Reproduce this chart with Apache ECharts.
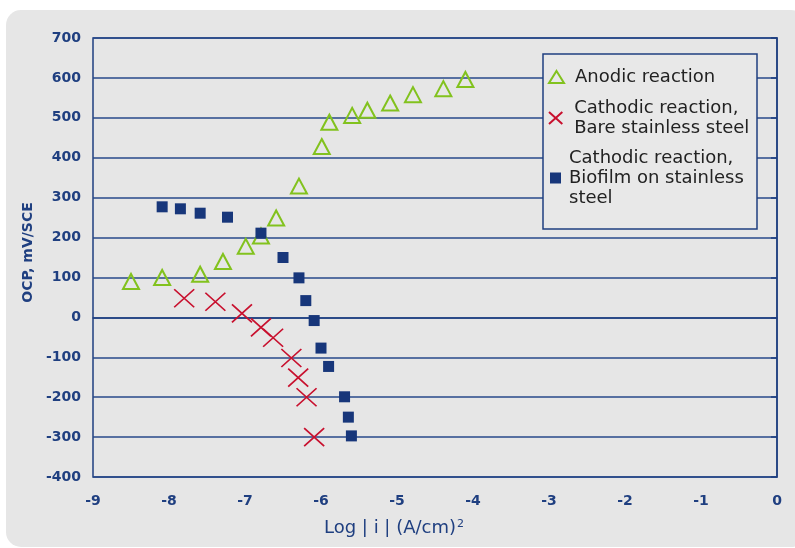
<!DOCTYPE html>
<html>
<head>
<meta charset="utf-8">
<script src="https://cdn.jsdelivr.net/npm/echarts@6/dist/echarts.min.js"></script>
<style>
html,body{margin:0;padding:0;background:#fff;}
#chart{width:795px;height:548px;}
</style>
</head>
<body>
<div id="chart"></div>
<script>
// ---- data ----
const seriesNames = ['Anodic reaction', 'Cathodic reaction,\nBare stainless steel', 'Cathodic reaction,\nBiofilm on stainless\nsteel'];

const anodicX = [-8.5, -8.09, -7.59, -7.29, -6.99, -6.79, -6.59, -6.29, -5.99, -5.89, -5.59, -5.39, -5.09, -4.79, -4.39, -4.1];
const anodicY = [90, 100, 108, 140, 178, 204, 249, 329, 428, 489, 506, 519, 537, 558, 573, 596];

const bareX = [-7.8, -7.39, -7.04, -6.79, -6.63, -6.39, -6.3, -6.19, -6.09];
const bareY = [48, 39, 10, -25, -51, -102, -151, -200, -300];

const bioX = [-8.09, -7.85, -7.59, -7.23, -6.79, -6.5, -6.29, -6.2, -6.09, -6.0, -5.9, -5.69, -5.64, -5.6];
const bioY = [277, 272, 261, 251, 211, 150, 99, 42, -8, -77, -123, -199, -250, -297];

const xTicks = {min: -9, max: 0, interval: 1};
const yTicks = {min: -400, max: 700, interval: 100};

const xTitle = 'Log | i | (A/cm)';
const yTitle = 'OCP, mV/SCE';

// ---- styling ----
const navy = '#1f3f80';
const green = '#82c21e';
const red = '#c8102e';
const blue = '#17367a';
const font = 'DejaVu Sans';

const pairs = (xs, ys) => xs.map((x, i) => [x, ys[i]]);
const crossPath = 'path://M0,0L20,18M20,0L0,18';

const chart = echarts.init(document.getElementById('chart'));
chart.setOption({
  backgroundColor: '#ffffff',
  animation: false,
  graphic: [
    {type: 'rect', z: -10, shape: {x: 6, y: 10, width: 800, height: 537, r: 15}, style: {fill: '#e6e6e6'}},
    {type: 'rect', z: 3, shape: {x: 543, y: 54, width: 214, height: 175}, style: {fill: '#e8e8e8', stroke: navy, lineWidth: 1.5}}
  ],
  grid: {left: 93, right: 18, top: 38, bottom: 71, show: true, borderColor: navy, borderWidth: 1.5, backgroundColor: 'transparent'},
  xAxis: {
    type: 'value', min: xTicks.min, max: xTicks.max, interval: xTicks.interval,
    axisLine: {show: true, lineStyle: {color: navy, width: 1.5}},
    axisTick: {show: false},
    splitLine: {show: false},
    axisLabel: {color: navy, fontFamily: font, fontSize: 14, fontWeight: 'bold', margin: 17},
    name: xTitle + '{sup|2}',
    nameLocation: 'middle', nameGap: 42,
    nameTextStyle: {color: navy, fontFamily: font, fontSize: 18, padding: [0, 82, 0, 0],
      rich: {sup: {fontSize: 11, verticalAlign: 'top', color: navy, fontFamily: font, padding: [0, 0, 8, 1]}}}
  },
  yAxis: {
    type: 'value', min: yTicks.min, max: yTicks.max, interval: yTicks.interval,
    axisLine: {show: true, lineStyle: {color: navy, width: 1.5}},
    axisTick: {show: true, inside: false, length: 6, lineStyle: {color: navy, width: 1.5}},
    splitLine: {show: true, lineStyle: {color: '#27488a', width: 1.6}},
    axisLabel: {color: navy, fontFamily: font, fontSize: 14, fontWeight: 'bold', margin: 12},
    name: yTitle, nameLocation: 'middle', nameGap: 57, nameRotate: 90,
    nameTextStyle: {color: navy, fontFamily: font, fontSize: 14, fontWeight: 'bold', padding: [0, 0, 0, 10]}
  },
  legend: [
    {data: [seriesNames[0]], left: 548, top: 67, padding: 0, itemWidth: 15, itemHeight: 12,
     textStyle: {fontFamily: font, fontSize: 18, color: '#222', lineHeight: 20, padding: [0, 0, 0, 6]}},
    {data: [seriesNames[1]], left: 548, top: 95, padding: 0, itemWidth: 15, itemHeight: 12,
     textStyle: {fontFamily: font, fontSize: 18, color: '#222', lineHeight: 20, padding: [6, 0, 0, 6]}},
    {data: [seriesNames[2]], left: 550, top: 134, padding: 0, itemWidth: 11, itemHeight: 11,
     textStyle: {fontFamily: font, fontSize: 18, color: '#222', lineHeight: 20, padding: [28, 0, 0, 3]}}
  ],
  series: [
    {name: seriesNames[0], type: 'scatter', data: pairs(anodicX, anodicY), symbol: 'triangle', symbolSize: [16, 15],
     itemStyle: {color: 'transparent', borderColor: green, borderWidth: 2, opacity: 1}},
    {name: seriesNames[1], type: 'scatter', data: pairs(bareX, bareY), symbol: crossPath, symbolSize: [20, 18],
     itemStyle: {color: 'transparent', borderColor: red, borderWidth: 1.6, opacity: 1}},
    {name: seriesNames[2], type: 'scatter', data: pairs(bioX, bioY), symbol: 'rect', symbolSize: 11,
     itemStyle: {color: blue, opacity: 1}}
  ]
});
</script>
</body>
</html>
